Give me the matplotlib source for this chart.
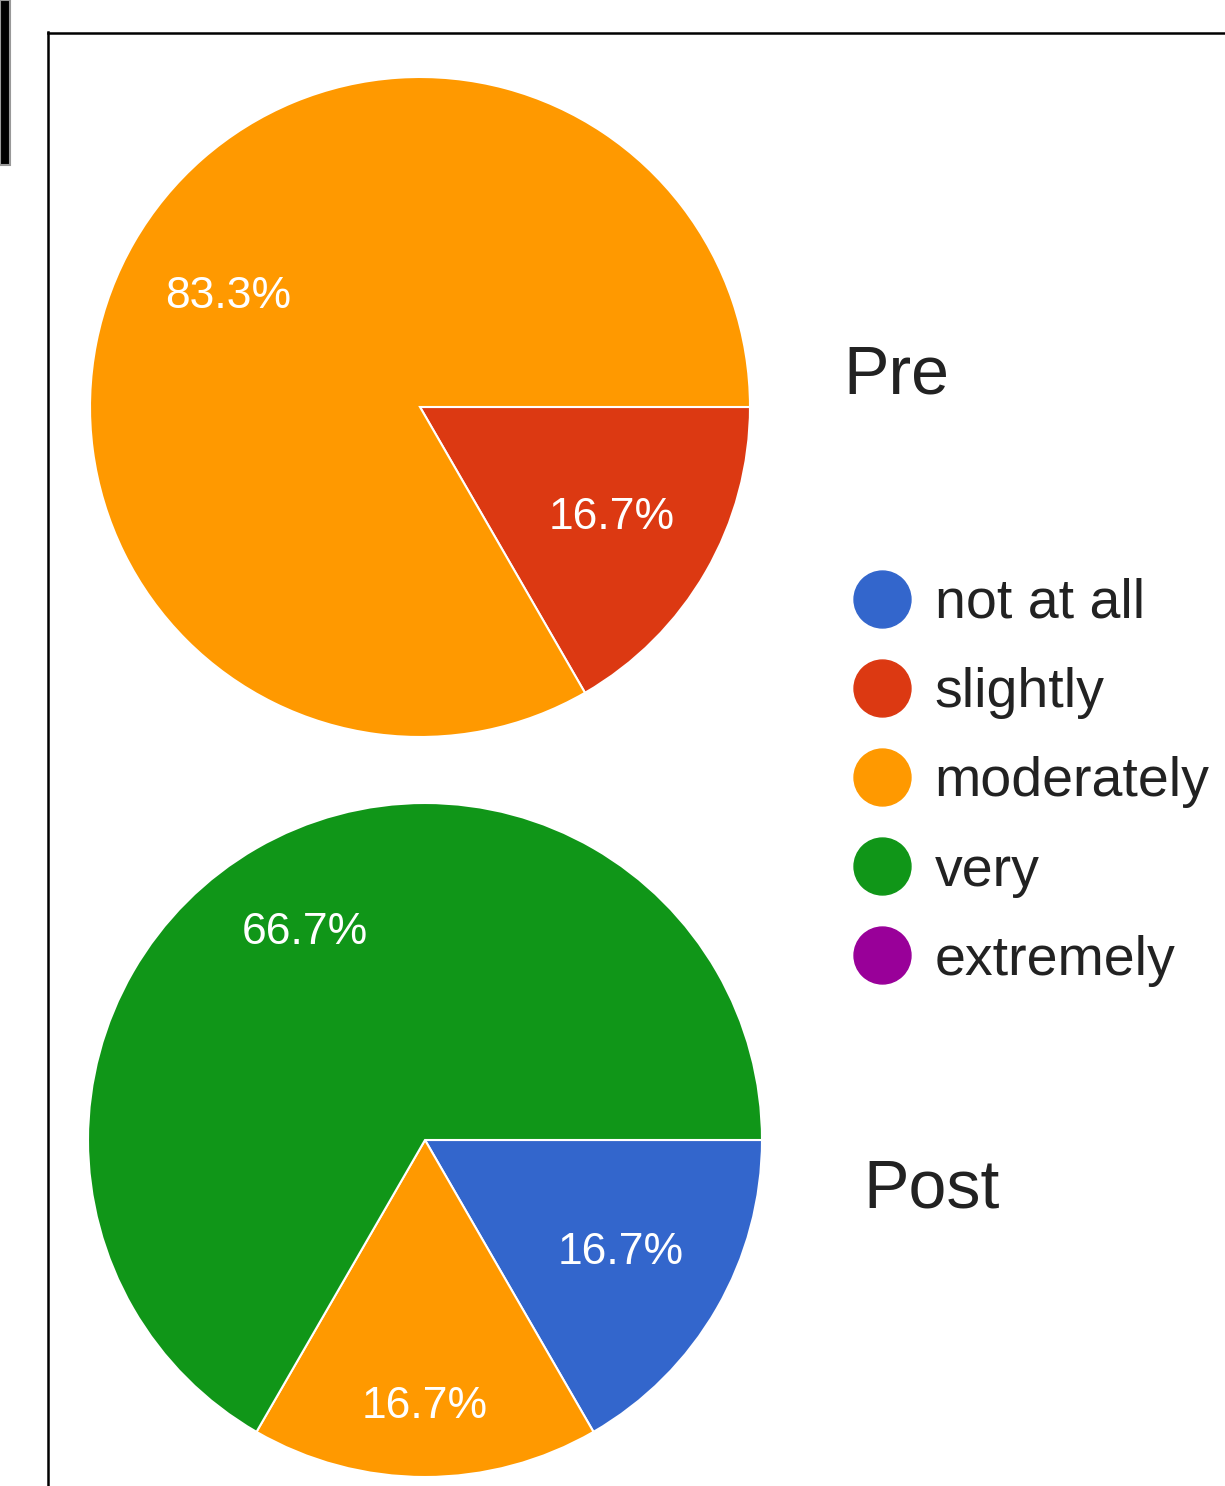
import matplotlib.pyplot as plt
from matplotlib.lines import Line2D
from matplotlib.patches import Rectangle

# data
categories = ["not at all", "slightly", "moderately", "very", "extremely"]
colors = ["#3366CC", "#DC3912", "#FF9900", "#109618", "#990099"]
pre_counts = [0, 1, 5, 0, 0]
post_counts = [1, 0, 1, 4, 0]
titles = ["Pre", "Post"]

W, H = 1225, 1486
plt.rcParams['font.family'] = ['Liberation Sans', 'DejaVu Sans']

fig = plt.figure(figsize=(W / 100, H / 100), dpi=100)
ax = fig.add_axes([0, 0, 1, 1])


def draw_pie(counts, center, radius, label_dist):
    vals = [v for v in counts if v > 0]
    cols = [colors[i] for i, v in enumerate(counts) if v > 0]
    wedges, texts, autotexts = ax.pie(
        vals, colors=cols, startangle=0, counterclock=False,
        center=center, radius=radius, frame=True,
        autopct='%1.1f%%', pctdistance=0.68,
        wedgeprops=dict(edgecolor='white', linewidth=1.5),
        textprops=dict(color='white', fontsize=32))
    for t, d in zip(autotexts, label_dist):
        x, y = t.get_position()
        f = d / 0.68
        t.set_position((center[0] + (x - center[0]) * f,
                        center[1] + (y - center[1]) * f))


draw_pie(pre_counts, (420, H - 407), 330, [0.67, 0.67])
draw_pie(post_counts, (425, H - 1140), 337, [0.67, 0.79, 0.71])

ax.set_xlim(0, W)
ax.set_ylim(0, H)
ax.set_aspect('auto')
ax.axis('off')

ax.text(843, H - 393, titles[0], fontsize=49, color='#222222', va='baseline')
ax.text(863, H - 1208, titles[1], fontsize=49, color='#222222', va='baseline')

handles = [Line2D([], [], marker='o', linestyle='none', markersize=41,
                  markerfacecolor=c, markeredgecolor=c) for c in colors]
leg = fig.legend(handles, categories, loc='upper left',
                 bbox_to_anchor=(854 / W, 1 - 578 / H), frameon=False,
                 fontsize=40, handlelength=1.0, handletextpad=0.45,
                 labelspacing=0.67, borderpad=0, borderaxespad=0)
for t in leg.get_texts():
    t.set_color('#222222')

# frame lines and the dark box at top left
fig.add_artist(Rectangle((0, 1 - 165 / H), 10 / W, 165 / H, transform=fig.transFigure,
                         facecolor='black', edgecolor='#999999', linewidth=1.5))
fig.add_artist(Line2D([48 / W, 48 / W], [0, 1 - 32 / H], transform=fig.transFigure,
                      color='black', linewidth=1.8))
fig.add_artist(Line2D([48 / W, 1], [1 - 33 / H, 1 - 33 / H], transform=fig.transFigure,
                      color='black', linewidth=1.8))

fig.savefig("out.png", dpi=100)
